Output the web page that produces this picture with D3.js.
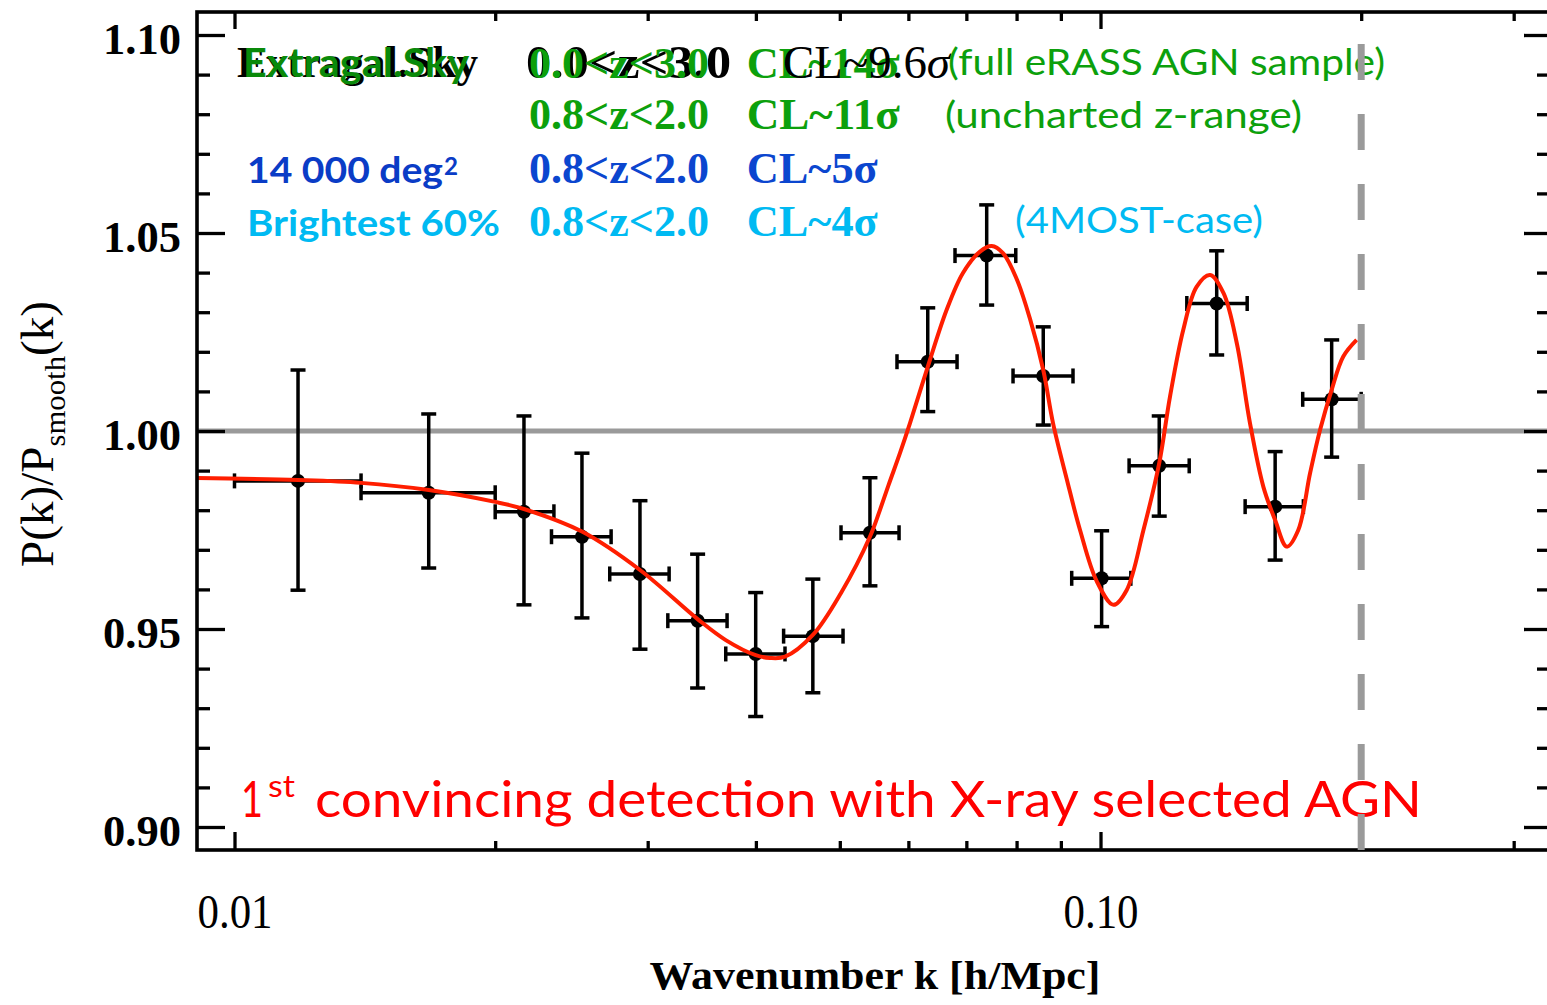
<!DOCTYPE html>
<html>
<head>
<meta charset="utf-8">
<script src="https://cdn.jsdelivr.net/npm/d3@7"></script>
<style>
  html, body { margin: 0; padding: 0; background: #fff; }
  svg { display: block; }
</style>
</head>
<body>
<svg id="chart" width="1547" height="1005"></svg>
<script>
// ---------------- DATA ----------------
const kVals = [0.01184, 0.01676, 0.02159, 0.02519, 0.02939, 0.03426, 0.03998, 0.04654, 0.05417,
               0.06317, 0.07389, 0.08588, 0.1003, 0.1169, 0.1362, 0.1591, 0.1849];
const kLo   = [0.0100, 0.0140, 0.0200, 0.02323, 0.02712, 0.03165, 0.03692, 0.04306, 0.05016,
               0.05821, 0.06792, 0.07925, 0.09263, 0.1079, 0.1258, 0.1469, 0.1712];
const kHi   = [0.0140, 0.0200, 0.02338, 0.02722, 0.03176, 0.03705, 0.04322, 0.05043, 0.05853,
               0.06829, 0.07983, 0.09295, 0.1084, 0.1266, 0.1477, 0.1715, 0.2000];
const ratio = [0.9874, 0.9844, 0.9796, 0.9733, 0.9639, 0.9521, 0.9437, 0.9482, 0.9743,
               1.0175, 1.0443, 1.0139, 0.9628, 0.9912, 1.0322, 0.9809, 1.0080];
const errHi = [1.0154, 1.0043, 1.0038, 0.9944, 0.9824, 0.9689, 0.9592, 0.9626, 0.9882,
               1.0311, 1.0571, 1.0263, 0.9748, 1.0038, 1.0455, 0.9948, 1.0230];
const errLo = [0.9598, 0.9654, 0.9561, 0.9528, 0.9449, 0.9351, 0.9279, 0.9339, 0.9609,
               1.0049, 1.0318, 1.0015, 0.9506, 0.9785, 1.0192, 0.9674, 0.9934];

// best-fit model curve (red)
const curveK = [0.00905, 0.01184, 0.0140, 0.01676, 0.0200, 0.02159, 0.02519, 0.02939, 0.03426, 0.03692,
                0.03998, 0.04153, 0.04322, 0.04654, 0.05016, 0.05417, 0.05564, 0.05693, 0.05867, 0.06026,
                0.06317, 0.06643, 0.06937, 0.07259, 0.07488, 0.07716, 0.08002, 0.08291, 0.08588, 0.08814,
                0.09141, 0.0947, 0.09899, 0.1035, 0.1072, 0.1121, 0.1169, 0.1203, 0.1246, 0.1291,
                0.1338, 0.1387, 0.1437, 0.1488, 0.1542, 0.1591, 0.1641, 0.1692, 0.1746, 0.1793,
                0.1849, 0.1907, 0.1976];
const curveV = [0.9881, 0.9876, 0.9869, 0.9851, 0.9821, 0.9803, 0.9746, 0.9649, 0.9525, 0.9472,
                0.9434, 0.9427, 0.9430, 0.9485, 0.9591, 0.9733, 0.9801, 0.9864, 0.9944, 1.0020,
                1.0162, 1.0306, 1.0399, 1.0453, 1.0467, 1.0449, 1.0384, 1.0283, 1.0154, 1.0020,
                0.9879, 0.9750, 0.9621, 0.9561, 0.9598, 0.9750, 0.9919, 1.0087, 1.0255, 1.0364,
                1.0394, 1.0348, 1.0221, 1.0020, 0.9859, 0.9775, 0.9708, 0.9750, 0.9894, 1.0003,
                1.0104, 1.0188, 1.0230];

const yMajorTicks = [0.90, 0.95, 1.00, 1.05, 1.10];
const yMinorTicks = [0.91,0.92,0.93,0.94,0.96,0.97,0.98,0.99,1.01,1.02,1.03,1.04,1.06,1.07,1.08,1.09];
const xMajorTicks = [0.01, 0.1];
const xMajorLabels = ["0.01", "0.10"];
const xMinorTicks = [0.02,0.03,0.04,0.05,0.06,0.07,0.08,0.09,0.2,0.3];
const referenceLevel = 1.0;
const kLimit = 0.2;

const xTitle = "Wavenumber k [h/Mpc]";
const annotRows = [
  // [label, z-range, CL, note]
  ["Extragal.Sky", "0.0<z<3.0", "CL~14σ", "(full eRASS AGN sample)"],
  ["", "0.8<z<2.0", "CL~11σ", "(uncharted z-range)"],
  ["14 000 deg", "0.8<z<2.0", "CL~5σ", ""],
  ["Brightest 60%", "0.8<z<2.0", "CL~4σ", "(4MOST-case)"]
];
const overlayZ = "0.0<z<3.0";
const overlayCL = "CL~9.6";
const headline = "convincing detection with X-ray selected AGN";

// ---------------- LAYOUT ----------------
const svg = d3.select("#chart");
const L = 197, R = 1552, T = 12, B = 850;

const xBase = d3.scaleLog().domain([0.01, 0.1]).range([234.5, 1100.5]);
const x = d3.scaleLog().domain([xBase.invert(L), xBase.invert(R)]).range([L, R]);
const y = d3.scaleLinear().domain([0.90, 1.10]).range([827, 35]);

const SERIF = "'Liberation Serif', 'Times New Roman', serif";
const SANS = "Lato, 'Open Sans', sans-serif";
const GREEN = "#0ca00c", GREEN_D = "#0a8a0a", BLUE = "#0b46cf", CYAN = "#00baf2", RED = "#ff0000";

// reference line at 1.00
svg.append("line")
  .attr("x1", L).attr("x2", R)
  .attr("y1", y(referenceLevel)).attr("y2", y(referenceLevel))
  .attr("stroke", "#9a9a9a").attr("stroke-width", 5);

// ---------------- TEXT ANNOTATIONS ----------------
function txt(g, s, xx, yy, opt) {
  const t = g.append("text")
    .attr("x", xx).attr("y", yy)
    .attr("font-family", opt.family)
    .attr("font-size", opt.size)
    .attr("font-weight", opt.weight || "normal")
    .attr("fill", opt.color)
    .text(s);
  if (opt.len) t.attr("textLength", opt.len).attr("lengthAdjust", "spacingAndGlyphs");
  return t;
}
const ann = svg.append("g");
const rowY = [78, 128.5, 183, 236];
// Row 1: overlapping black + green (as in the original slide)
txt(ann, annotRows[0][0], 237, 77, {family: SERIF, size: 45, weight: "bold", color: "#000", len: 241});
txt(ann, annotRows[0][0], 243, 77, {family: SANS, size: 40, weight: "bold", color: GREEN_D, len: 226});
txt(ann, overlayZ, 526, 78, {family: SERIF, size: 46, weight: "bold", color: "#000", len: 205});
txt(ann, annotRows[0][1], 529, 78, {family: SERIF, size: 44, weight: "bold", color: GREEN, len: 180});
txt(ann, annotRows[0][2], 746.7, 78, {family: SERIF, size: 44, weight: "bold", color: GREEN, len: 153});
{
  const t = ann.append("text").attr("x", 783).attr("y", 78)
    .attr("font-family", SERIF).attr("font-size", 46).attr("fill", "#000")
    .attr("textLength", 167).attr("lengthAdjust", "spacingAndGlyphs");
  t.append("tspan").text(overlayCL);
  t.append("tspan").attr("font-style", "italic").text("σ");
}
txt(ann, annotRows[0][3], 948, 75, {family: SANS, size: 36, color: GREEN, len: 437});
// Row 2
txt(ann, annotRows[1][1], 529, rowY[1], {family: SERIF, size: 44, weight: "bold", color: GREEN, len: 180});
txt(ann, annotRows[1][2], 746.7, rowY[1], {family: SERIF, size: 44, weight: "bold", color: GREEN, len: 153});
txt(ann, annotRows[1][3], 945, 128, {family: SANS, size: 36, color: GREEN, len: 357});
// Row 3
txt(ann, annotRows[2][0], 247, rowY[2], {family: SANS, size: 36, weight: "bold", color: "#0a3cc6", len: 196});
txt(ann, "2", 444, 175, {family: SANS, size: 24, weight: "bold", color: "#0a3cc6", len: 14});
txt(ann, annotRows[2][1], 529, rowY[2], {family: SERIF, size: 44, weight: "bold", color: BLUE, len: 180});
txt(ann, annotRows[2][2], 746.7, rowY[2], {family: SERIF, size: 44, weight: "bold", color: BLUE, len: 131});
// Row 4
txt(ann, annotRows[3][0], 247, 235.5, {family: SANS, size: 36, weight: "bold", color: CYAN, len: 253});
txt(ann, annotRows[3][1], 529, rowY[3], {family: SERIF, size: 44, weight: "bold", color: CYAN, len: 180});
txt(ann, annotRows[3][2], 746.7, rowY[3], {family: SERIF, size: 44, weight: "bold", color: CYAN, len: 131});
txt(ann, annotRows[3][3], 1015, 233, {family: SANS, size: 36, color: CYAN, len: 248});

// headline
txt(ann, "1", 241, 817, {family: SANS, size: 51, color: RED, len: 22});
txt(ann, "st", 268, 797, {family: SANS, size: 30, color: RED, len: 27});
txt(ann, headline, 315, 817, {family: SANS, size: 51, color: RED, len: 1107});

// ---------------- DATA MARKS ----------------
const data = kVals.map((k, i) => ({k, v: ratio[i], lo: kLo[i], hi: kHi[i], eLo: errLo[i], eHi: errHi[i]}));
const marks = svg.append("g").attr("stroke", "#000").attr("stroke-width", 3.5);
const cap = 7.5;
data.forEach(d => {
  const g = marks.append("g");
  const cx = x(d.k), cy = y(d.v);
  // vertical error bar + caps
  g.append("line").attr("x1", cx).attr("x2", cx).attr("y1", y(d.eHi)).attr("y2", y(d.eLo));
  g.append("line").attr("x1", cx - cap).attr("x2", cx + cap).attr("y1", y(d.eHi)).attr("y2", y(d.eHi));
  g.append("line").attr("x1", cx - cap).attr("x2", cx + cap).attr("y1", y(d.eLo)).attr("y2", y(d.eLo));
  // horizontal bin bar + caps
  g.append("line").attr("x1", x(d.lo)).attr("x2", x(d.hi)).attr("y1", cy).attr("y2", cy);
  g.append("line").attr("x1", x(d.lo)).attr("x2", x(d.lo)).attr("y1", cy - cap).attr("y2", cy + cap);
  g.append("line").attr("x1", x(d.hi)).attr("x2", x(d.hi)).attr("y1", cy - cap).attr("y2", cy + cap);
  g.append("circle").attr("cx", cx).attr("cy", cy).attr("r", 7).attr("fill", "#000").attr("stroke", "none");
});

// red model curve
const line = d3.line().x(d => x(d[0])).y(d => y(d[1])).curve(d3.curveCatmullRom.alpha(0.5));
svg.append("path")
  .datum(curveK.map((k, i) => [k, curveV[i]]))
  .attr("d", line)
  .attr("fill", "none")
  .attr("stroke", "#ff1e00")
  .attr("stroke-width", 4)
  .attr("stroke-linejoin", "round");

// ---------------- AXES ----------------
function styleAxis(g) {
  g.select(".domain").remove();
  g.selectAll(".tick line").attr("stroke", "#000").attr("stroke-width", 3.3);
}
// left
svg.append("g").attr("transform", `translate(${L},0)`)
  .call(d3.axisLeft(y).tickValues(yMajorTicks).tickSize(-28).tickPadding(16).tickFormat(d3.format(".2f")))
  .call(styleAxis)
  .call(g => g.selectAll(".tick text")
    .attr("font-family", SERIF).attr("font-weight", "bold").attr("font-size", 44)
    .attr("fill", "#000").attr("dy", null).attr("y", 18.5)
    .attr("textLength", 78).attr("lengthAdjust", "spacingAndGlyphs"));
svg.append("g").attr("transform", `translate(${L},0)`)
  .call(d3.axisLeft(y).tickValues(yMinorTicks).tickSize(-13).tickFormat(""))
  .call(styleAxis);
// right
svg.append("g").attr("transform", `translate(${R},0)`)
  .call(d3.axisRight(y).tickValues(yMajorTicks).tickSize(-28).tickFormat(""))
  .call(styleAxis);
svg.append("g").attr("transform", `translate(${R},0)`)
  .call(d3.axisRight(y).tickValues(yMinorTicks).tickSize(-15).tickFormat(""))
  .call(styleAxis);
// bottom
svg.append("g").attr("transform", `translate(0,${B})`)
  .call(d3.axisBottom(x).tickValues(xMajorTicks).tickSize(-18).tickFormat((d, i) => xMajorLabels[i]))
  .call(styleAxis)
  .call(g => g.selectAll(".tick text")
    .attr("font-family", SERIF).attr("font-size", 49).attr("fill", "#000")
    .attr("dy", null).attr("y", 78)
    .attr("textLength", 75).attr("lengthAdjust", "spacingAndGlyphs"));
svg.append("g").attr("transform", `translate(0,${B})`)
  .call(d3.axisBottom(x).tickValues(xMinorTicks).tickSize(-9).tickFormat(""))
  .call(styleAxis);
// top
svg.append("g").attr("transform", `translate(0,${T})`)
  .call(d3.axisTop(x).tickValues(xMajorTicks).tickSize(-17).tickFormat(""))
  .call(styleAxis);
svg.append("g").attr("transform", `translate(0,${T})`)
  .call(d3.axisTop(x).tickValues(xMinorTicks).tickSize(-9).tickFormat(""))
  .call(styleAxis);

// frame
svg.append("rect").attr("x", L).attr("y", T).attr("width", R - L).attr("height", B - T)
  .attr("fill", "none").attr("stroke", "#000").attr("stroke-width", 3.6);

// axis titles
svg.append("text")
  .attr("x", 875).attr("y", 989)
  .attr("text-anchor", "middle")
  .attr("font-family", SERIF).attr("font-weight", "bold").attr("font-size", 41)
  .attr("textLength", 451).attr("lengthAdjust", "spacingAndGlyphs")
  .attr("fill", "#000").text(xTitle);

{
  const t = svg.append("text")
    .attr("transform", "translate(53,434) rotate(-90)")
    .attr("text-anchor", "middle")
    .attr("font-family", SERIF).attr("font-size", 46).attr("fill", "#000")
    .attr("textLength", 266).attr("lengthAdjust", "spacingAndGlyphs");
  t.append("tspan").text("P(k)/P");
  t.append("tspan").attr("font-size", 30).attr("dy", 12).text("smooth");
  t.append("tspan").attr("dy", -12).text("(k)");
}

// dashed k-limit line (drawn on top, as in the original)
svg.append("line")
  .attr("x1", x(kLimit)).attr("x2", x(kLimit))
  .attr("y1", B).attr("y2", T)
  .attr("stroke", "#9a9a9a").attr("stroke-width", 7)
  .attr("stroke-dasharray", "36,34");
</script>
</body>
</html>
